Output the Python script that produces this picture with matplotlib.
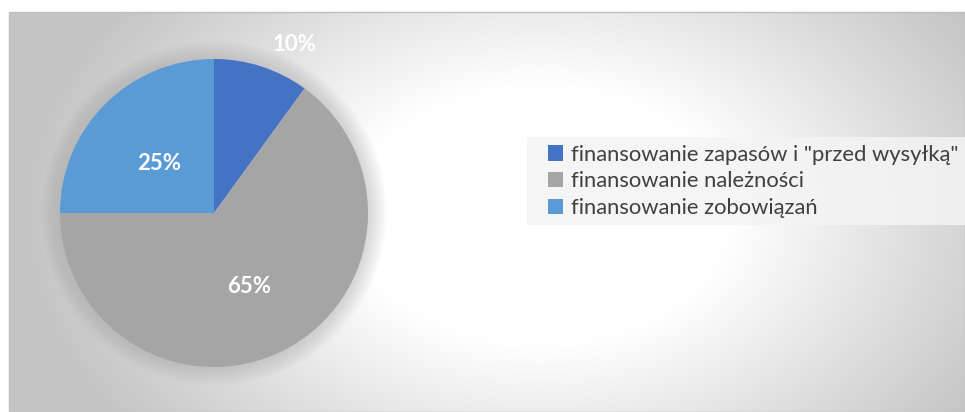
import numpy as np
import matplotlib
matplotlib.use("Agg")
import matplotlib.pyplot as plt
from matplotlib.patches import Rectangle, Circle

# data
labels = ['finansowanie zapasów i "przed wysyłką"',
          'finansowanie należności',
          'finansowanie zobowiązań']
shares = [10, 65, 25]
colors = ['#4472C4', '#A5A5A5', '#5B9BD5']

W, H = 965, 412
fig = plt.figure(figsize=(W / 100, H / 100), dpi=100)
fig.patch.set_facecolor('white')


def px_axes(left, top, width, height, **kw):
    return fig.add_axes([left / W, 1 - (top + height) / H, width / W, height / H], **kw)


# chart area background: soft radial gradient, white centre -> grey edges
bx0, by0 = 9, 12
bg = px_axes(bx0, by0, W - bx0, H - by0)
yy, xx = np.mgrid[by0:H, bx0:W]
d = np.sqrt(((xx - 540) / 470.0) ** 2 + ((yy - 215) / 320.0) ** 2)
t = np.clip((d - 0.40) / (1.10 - 0.40), 0, 1)
grey = 0.77
val = 1 - t * (1 - grey)
bg.imshow(np.dstack([val, val, val]), aspect='auto', interpolation='bilinear',
          extent=[0, 1, 0, 1], origin='upper')
bg.set_xlim(0, 1)
bg.set_ylim(0, 1)
bg.axis('off')
fig.add_artist(Rectangle((bx0 / W, 0), 1 - bx0 / W, 1 - by0 / H, transform=fig.transFigure,
                         fill=False, edgecolor='#BFBFBF', linewidth=1.0))

# pie
cx, cy, r = 214, 213, 154
half = 175
ax = px_axes(cx - half, cy - half, 2 * half, 2 * half)
ax.set_facecolor('none')

wedges, texts, autotexts = ax.pie(
    shares, colors=colors, startangle=90, counterclock=False, radius=1.0,
    autopct='%1.0f%%', pctdistance=0.5,
    wedgeprops=dict(linewidth=0, zorder=2),
    textprops=dict(color='white', fontsize=16, fontweight='bold', family='Lato'))
for a in autotexts:
    a.set_zorder(5)

lim = half / r
ax.set_xlim(-lim, lim)
ax.set_ylim(-lim, lim)
ax.set_aspect('equal')
ax.axis('off')

# soft glow/shadow behind the pie
for k in range(12):
    ax.add_patch(Circle((0, 0), 1.0 + 0.01 * (k + 1), color='#A0A0A0',
                        alpha=0.035, linewidth=0, zorder=0))

# labels a touch lower, as Excel draws them
for a in autotexts[1:]:
    x, y = a.get_position()
    a.set_position((x, y - 0.03))

# small slice label sits outside, like Excel's best fit
w0 = wedges[0]
mid = np.deg2rad((w0.theta1 + w0.theta2) / 2 - 7)
autotexts[0].set_position((1.23 * np.cos(mid), 1.21 * np.sin(mid)))

# legend
fig.add_artist(Rectangle((527 / W, 1 - 225 / H), (W - 527) / W, 88 / H,
                         transform=fig.transFigure, facecolor='#F4F4F4',
                         edgecolor='none', alpha=0.85))
leg = fig.legend(wedges, labels, loc='upper left',
                 bbox_to_anchor=(539 / W, 1 - 136 / H),
                 frameon=False, handlelength=0.7, handleheight=0.7,
                 handletextpad=0.35, labelspacing=0.3, borderaxespad=0,
                 prop=dict(family='Lato', size=15.8))
for txt in leg.get_texts():
    txt.set_color('#404040')

fig.savefig('out.png', dpi=100)
